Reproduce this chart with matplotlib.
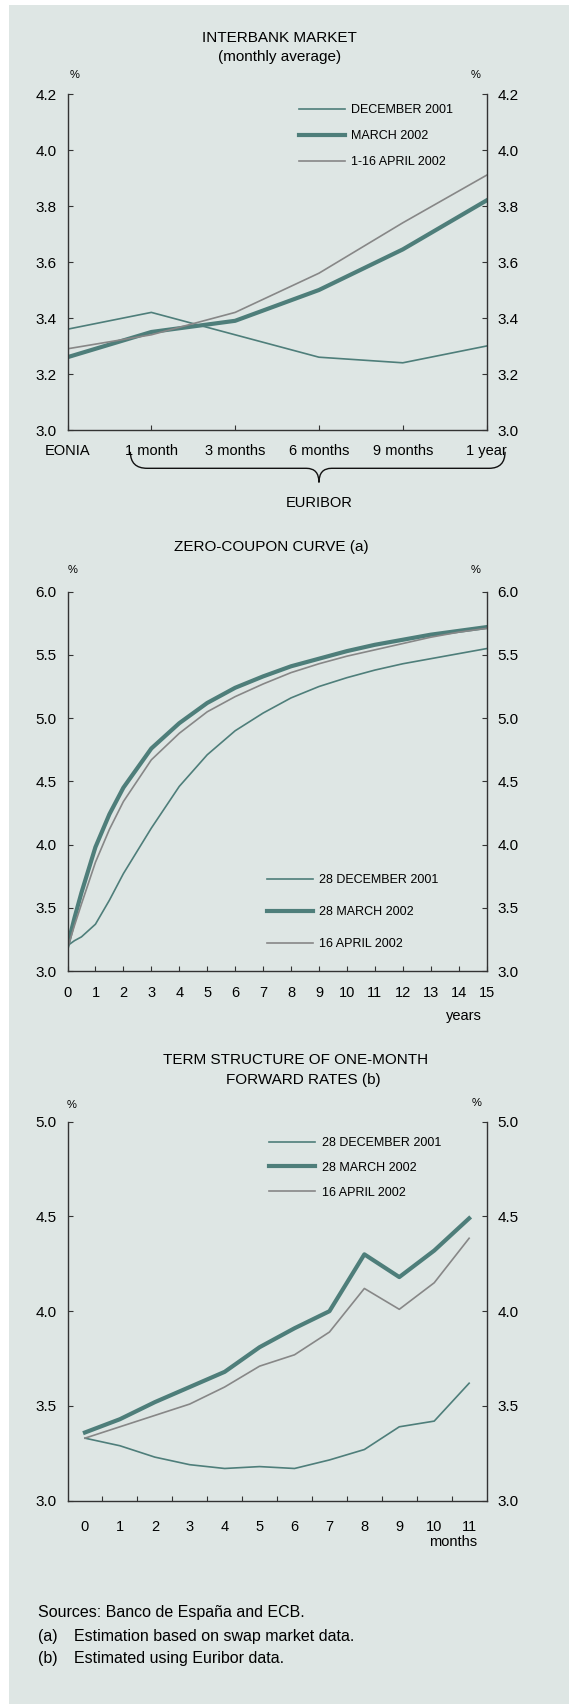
import matplotlib.pyplot as plt
from matplotlib.patches import Rectangle, PathPatch
from matplotlib.path import Path
import matplotlib.transforms as mtransforms

plt.rcParams['font.family'] = ['Liberation Sans', 'DejaVu Sans']

# ---- data ----
ib_labels = ['EONIA', '1 month', '3 months', '6 months', '9 months', '1 year']
ib_dec01 = [3.36, 3.42, 3.34, 3.26, 3.24, 3.30]
ib_mar02 = [3.26, 3.35, 3.39, 3.50, 3.645, 3.82]
ib_apr02 = [3.29, 3.34, 3.42, 3.56, 3.74, 3.91]

zc_years = [0, 0.25, 0.5, 1, 1.5, 2, 3, 4, 5, 6, 7, 8, 9, 10, 11, 12, 13, 14, 15]
zc_dec01 = [3.20, 3.24, 3.27, 3.37, 3.56, 3.77, 4.13, 4.46, 4.71, 4.90, 5.04, 5.16,
            5.25, 5.32, 5.38, 5.43, 5.47, 5.51, 5.55]
zc_mar02 = [3.20, 3.42, 3.62, 3.98, 4.24, 4.45, 4.76, 4.96, 5.12, 5.24, 5.33, 5.41,
            5.47, 5.53, 5.58, 5.62, 5.66, 5.69, 5.72]
zc_apr02 = [3.18, 3.36, 3.53, 3.86, 4.12, 4.34, 4.67, 4.88, 5.05, 5.17, 5.27, 5.36,
            5.43, 5.49, 5.54, 5.59, 5.64, 5.68, 5.71]

fw_months = list(range(12))
fw_dec01 = [3.33, 3.29, 3.23, 3.19, 3.17, 3.18, 3.17, 3.215, 3.27, 3.39, 3.42, 3.62]
fw_mar02 = [3.36, 3.43, 3.52, 3.60, 3.68, 3.81, 3.91, 4.00, 4.30, 4.18, 4.32, 4.49]
fw_apr02 = [3.33, 3.39, 3.45, 3.51, 3.60, 3.71, 3.77, 3.89, 4.12, 4.01, 4.15, 4.385]

W, H = 569, 1704
TEAL = '#4e7e7a'
GREY = '#878787'
AX = '#333333'

def fx(x):
    return x / W

def fy(y):
    return 1 - y / H

fig = plt.figure(figsize=(W / 100, H / 100), dpi=100)
fig.patches.append(Rectangle((fx(9), 0), 1 - fx(9), fy(5), transform=fig.transFigure,
                             facecolor='#dee6e4', edgecolor='none', zorder=-10))

def make_axes(top, bottom):
    ax = fig.add_axes([fx(67.5), fy(bottom), fx(486.6) - fx(67.5), (bottom - top) / H])
    ax.set_facecolor('none')
    ax.spines['top'].set_visible(False)
    for s in ['left', 'right', 'bottom']:
        ax.spines[s].set_color(AX)
        ax.spines[s].set_linewidth(1.0)
    ax.tick_params(axis='y', which='both', direction='in', left=True, right=True,
                   labelleft=True, labelright=True, length=3.5, width=0.8,
                   color=AX, labelsize=11, pad=8)
    ax.tick_params(axis='x', which='both', direction='in', length=3.5, width=0.8,
                   color=AX, labelsize=10.5)
    return ax

def legend(ax, labels, x, y, spacing):
    ax.legend(labels, loc='upper left', bbox_to_anchor=(fx(x), fy(y)),
              bbox_transform=fig.transFigure, frameon=False, fontsize=9,
              handlelength=3.7, handletextpad=0.5, borderpad=0, borderaxespad=0,
              labelspacing=spacing)

# ---- chart 1: interbank market ----
ax1 = make_axes(94, 430)
x1 = range(len(ib_labels))
ax1.plot(x1, ib_dec01, color=TEAL, lw=1.2)
ax1.plot(x1, ib_mar02, color=TEAL, lw=3.0)
ax1.plot(x1, ib_apr02, color=GREY, lw=1.2)
ax1.set_xlim(0, 5)
ax1.set_ylim(3.0, 4.2)
ax1.set_yticks([3.0, 3.2, 3.4, 3.6, 3.8, 4.0, 4.2])
ax1.set_yticklabels(['3.0', '3.2', '3.4', '3.6', '3.8', '4.0', '4.2'])
ax1.set_xticks(list(x1))
ax1.set_xticklabels(ib_labels)
ax1.tick_params(axis='x', pad=10)
legend(ax1, ['DECEMBER 2001', 'MARCH 2002', '1-16 APRIL 2002'], 298.5, 104.3, 1.12)

# EURIBOR brace below the x labels
btr = mtransforms.blended_transform_factory(ax1.transData, ax1.transAxes)
yt, ym, yc = -0.065, -0.114, -0.156
verts = [(0.75, yt), (0.75, ym), (0.95, ym), (2.85, ym), (3.0, ym), (3.0, yc),
         (3.0, ym), (3.15, ym), (5.03, ym), (5.22, ym), (5.22, yt)]
codes = [Path.MOVETO, Path.CURVE3, Path.CURVE3, Path.LINETO, Path.CURVE3, Path.CURVE3,
         Path.CURVE3, Path.CURVE3, Path.LINETO, Path.CURVE3, Path.CURVE3]
ax1.add_patch(PathPatch(Path(verts, codes), transform=btr, facecolor='none',
                        edgecolor='#111111', lw=1.0, clip_on=False))
fig.text(fx(319), fy(503), 'EURIBOR', ha='center', va='center', fontsize=10.5)

fig.text(fx(279.8), fy(38), 'INTERBANK MARKET', ha='center', va='center', fontsize=11)
fig.text(fx(279.8), fy(57), '(monthly average)', ha='center', va='center', fontsize=11)
fig.text(fx(75), fy(75), '%', ha='center', va='center', fontsize=8)
fig.text(fx(476), fy(75), '%', ha='center', va='center', fontsize=8)

# ---- chart 2: zero-coupon curve ----
ax2 = make_axes(591.7, 971)
ax2.plot(zc_years, zc_dec01, color=TEAL, lw=1.2)
ax2.plot(zc_years, zc_mar02, color=TEAL, lw=3.0)
ax2.plot(zc_years, zc_apr02, color=GREY, lw=1.2)
ax2.set_xlim(0, 15)
ax2.set_ylim(3.0, 6.0)
ax2.set_yticks([3.0, 3.5, 4.0, 4.5, 5.0, 5.5, 6.0])
ax2.set_yticklabels(['3.0', '3.5', '4.0', '4.5', '5.0', '5.5', '6.0'])
ax2.set_xticks(range(16))
ax2.tick_params(axis='x', pad=11)
legend(ax2, ['28 DECEMBER 2001', '28 MARCH 2002', '16 APRIL 2002'], 266.7, 874.5, 1.6)

fig.text(fx(271), fy(547), 'ZERO-COUPON CURVE (a)', ha='center', va='center', fontsize=11)
fig.text(fx(72.6), fy(570), '%', ha='center', va='center', fontsize=8)
fig.text(fx(476), fy(570), '%', ha='center', va='center', fontsize=8)
fig.text(fx(463.7), fy(1016), 'years', ha='center', va='center', fontsize=10.5)

# ---- chart 3: one-month forward rates ----
ax3 = make_axes(1121.7, 1500.7)
ax3.plot(fw_months, fw_dec01, color=TEAL, lw=1.2)
ax3.plot(fw_months, fw_mar02, color=TEAL, lw=3.0)
ax3.plot(fw_months, fw_apr02, color=GREY, lw=1.2)
ax3.set_xlim(-0.5, 11.5)
ax3.set_ylim(3.0, 5.0)
ax3.set_yticks([3.0, 3.5, 4.0, 4.5, 5.0])
ax3.set_yticklabels(['3.0', '3.5', '4.0', '4.5', '5.0'])
ax3.set_xticks(fw_months)
ax3.set_xticks([m + 0.5 for m in fw_months[:-1]], minor=True)
ax3.tick_params(axis='x', which='major', length=0, pad=14)
legend(ax3, ['28 DECEMBER 2001', '28 MARCH 2002', '16 APRIL 2002'], 269.2, 1137, 1.02)

fig.text(fx(295.7), fy(1060), 'TERM STRUCTURE OF ONE-MONTH', ha='center', va='center', fontsize=11)
fig.text(fx(303), fy(1080), 'FORWARD RATES (b)', ha='center', va='center', fontsize=11)
fig.text(fx(71.8), fy(1105), '%', ha='center', va='center', fontsize=8)
fig.text(fx(477), fy(1103), '%', ha='center', va='center', fontsize=8)
fig.text(fx(452.9), fy(1542), 'months', ha='center', va='center', fontsize=10.5)

# ---- notes ----
fig.text(fx(38), fy(1612), 'Sources: Banco de España and ECB.', ha='left', va='center', fontsize=11.5)
fig.text(fx(38), fy(1636), '(a)', ha='left', va='center', fontsize=11.5)
fig.text(fx(73.7), fy(1636), 'Estimation based on swap market data.', ha='left', va='center', fontsize=11.5)
fig.text(fx(38), fy(1658), '(b)', ha='left', va='center', fontsize=11.5)
fig.text(fx(73.7), fy(1658), 'Estimated using Euribor data.', ha='left', va='center', fontsize=11.5)

fig.savefig('out.png', dpi=100)
